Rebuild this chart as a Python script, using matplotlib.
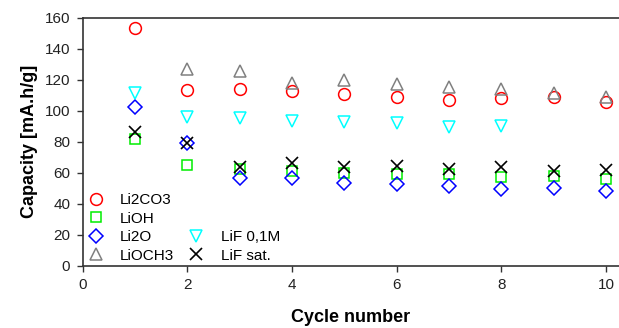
import numpy as np
import matplotlib
matplotlib.use("Agg")
import matplotlib.pyplot as plt
from matplotlib.lines import Line2D

plt.rcParams['font.family'] = ['Liberation Sans', 'DejaVu Sans']

# data
cycles = [1, 2, 3, 4, 5, 6, 7, 8, 9, 10]
li2co3 = [153.2, 113.4, 113.8, 112.7, 110.6, 108.6, 106.7, 107.8, 109.0, 105.8]
lioh = [81.5, 65.0, 62.2, 61.3, 60.0, 59.0, 59.0, 57.4, 57.9, 55.9]
li2o = [102.6, 79.4, 56.4, 56.4, 53.2, 52.7, 51.4, 49.7, 50.3, 48.4]
lioch3_cycles = [2, 3, 4, 5, 6, 7, 8, 9, 10]
lioch3 = [126.7, 125.2, 117.9, 119.4, 117.2, 115.1, 113.8, 111.6, 109.0]
lif01_cycles = [1, 2, 3, 4, 5, 6, 7, 8]
lif01 = [111.6, 96.1, 95.1, 93.5, 92.9, 91.9, 89.7, 90.1]
lifsat = [86.5, 79.4, 63.9, 66.0, 63.5, 64.3, 62.2, 63.5, 61.3, 61.7]

series = [
    ('Li2CO3', cycles, li2co3, 'o', '#ff0000', 8.5),
    ('LiOH', cycles, lioh, 's', '#00ee00', 7.5),
    ('Li2O', cycles, li2o, 'D', '#0000ff', 7),
    ('LiOCH3', lioch3_cycles, lioch3, '^', '#808080', 8),
    ('LiF 0,1M', lif01_cycles, lif01, 'v', '#00ffff', 8),
    ('LiF sat.', cycles, lifsat, 'x', '#000000', 8),
]

fig = plt.figure(figsize=(6.19, 3.28), dpi=100)
ax = fig.add_axes([82.7 / 619, 1 - 265.7 / 328, 1 - 82.7 / 619, (265.7 - 17.5) / 328])

handles = {}
for name, x, y, m, c, ms in series:
    if m == 'x':
        h, = ax.plot(x, y, linestyle='none', marker=m, color=c, markersize=ms,
                     markeredgewidth=1.2, label=name)
    else:
        h, = ax.plot(x, y, linestyle='none', marker=m, markerfacecolor='none',
                     markeredgecolor=c, markersize=ms, markeredgewidth=1.1, label=name)
    handles[name] = h

# legend: 4 rows in column one, the LiF entries in the lower two rows of column two
blank = Line2D([], [], linestyle='none', marker='none')
order = [handles['Li2CO3'], handles['LiOH'], handles['Li2O'], handles['LiOCH3'],
         blank, blank, handles['LiF 0,1M'], handles['LiF sat.']]
labels = ['Li2CO3', 'LiOH', 'Li2O', 'LiOCH3', '', '', 'LiF 0,1M', 'LiF sat.']
ax.legend(order, labels, ncol=2, loc='lower left', bbox_to_anchor=(0.007, 0.012),
          frameon=False, fontsize=11, handlelength=1.2, handletextpad=1.0,
          labelspacing=0.3, columnspacing=0.85, borderaxespad=0, borderpad=0)

ax.set_xlim(0, 10.25)
ax.set_ylim(0, 160)
ax.set_xticks([0, 2, 4, 6, 8, 10])
ax.set_yticks(np.arange(0, 161, 20))
ax.spines['right'].set_visible(False)
for s in ['left', 'bottom', 'top']:
    ax.spines[s].set_color('#333333')
    ax.spines[s].set_linewidth(1.2)
ax.tick_params(direction='out', length=4, width=1, colors='#333333',
               labelcolor='#222222', labelsize=11, pad=5)
ax.set_xlabel('Cycle number', fontsize=13, fontweight='bold', labelpad=12)
ax.set_ylabel('Capacity [mA.h/g]', fontsize=13, fontweight='bold', labelpad=5)

fig.savefig('out.png', dpi=100)
